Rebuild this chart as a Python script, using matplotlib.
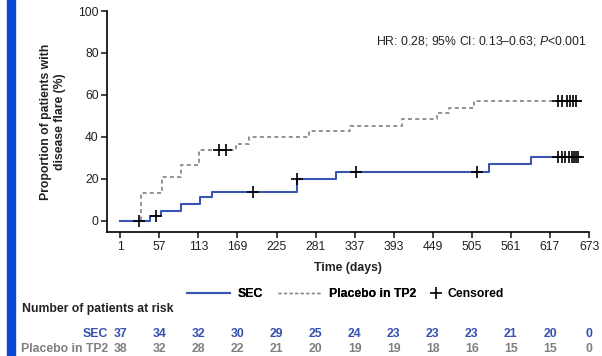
import numpy as np
import matplotlib
matplotlib.use("Agg")
import matplotlib.pyplot as plt
from matplotlib.lines import Line2D
from matplotlib.patches import Rectangle
from matplotlib import transforms

FS = 8.8
plt.rcParams.update({
    "font.family": ["Liberation Sans", "DejaVu Sans"],
    "font.size": FS,
    "mathtext.fontset": "custom",
    "mathtext.rm": "Liberation Sans",
    "mathtext.it": "Liberation Sans:italic",
    "axes.linewidth": 1.2,
})

BLUE = "#3a55b4"
GREY = "#8a8a8a"
TXT_BLUE = "#3550b0"
TXT_GREY = "#7f7f7f"

# ---- data ----
sec_days = [1, 43, 59, 88, 115, 132, 254, 311, 530, 590, 663]
sec_pct = [0, 2.4, 4.9, 8.1, 11.4, 13.9, 20.0, 23.2, 27.0, 30.3, 30.3]
sec_cens = [28, 52, 191, 254, 339, 512, 629, 634, 639, 644, 648, 651, 654, 657]

pbo_days = [1, 31, 61, 88, 114, 167, 186, 272, 331, 405, 455, 472, 508, 663]
pbo_pct = [0, 13.2, 21.1, 26.5, 33.8, 36.7, 39.8, 42.9, 45.4, 48.6, 51.3, 54.0, 57.1, 57.1]
pbo_cens = [143, 153, 629, 635, 641, 646, 650, 654]

x_ticks = [1, 57, 113, 169, 225, 281, 337, 393, 449, 505, 561, 617, 673]
sec_risk = [37, 34, 32, 30, 29, 25, 24, 23, 23, 23, 21, 20, 0]
pbo_risk = [38, 32, 28, 22, 21, 20, 19, 19, 18, 16, 15, 15, 0]


def level_at(days, pct, t):
    idx = np.searchsorted(days, t, side="right") - 1
    return np.asarray(pct)[idx]


W, H = 602, 356
fig = plt.figure(figsize=(W / 100, H / 100), dpi=100)
ax = fig.add_axes([107 / W, 1 - 232.3 / H, (589 - 107) / W, (232.3 - 11) / H])

# blue side bar
fig.patches.append(Rectangle((7 / W, 0), 8 / W, 1, transform=fig.transFigure,
                             color="#0b46d6", zorder=0))

ax.step(pbo_days, pbo_pct, where="post", color=GREY, lw=1.3, ls=(0, (2.2, 1.8)))
ax.step(sec_days, sec_pct, where="post", color=BLUE, lw=1.5)
ax.plot(pbo_cens, level_at(pbo_days, pbo_pct, pbo_cens), ls="none", marker="+",
        color="black", ms=9, mew=1.2)
ax.plot(sec_cens, level_at(sec_days, sec_pct, sec_cens), ls="none", marker="+",
        color="black", ms=9, mew=1.2)

ax.set_xlim(-18, 673)
ax.set_ylim(-5.4, 100)
ax.set_xticks(x_ticks)
ax.set_yticks(range(0, 101, 20))
ax.tick_params(direction="out", length=4, width=1.2, labelsize=FS, pad=2, colors="#222222")
for s in ["top", "right"]:
    ax.spines[s].set_visible(False)

ax.set_ylabel("Proportion of patients with\ndisease flare (%)", fontweight="bold",
              fontsize=FS, labelpad=9, color="#222222")
ax.set_xlabel("Time (days)", fontweight="bold", fontsize=FS, labelpad=7, color="#222222")

fig.text(587 / W, 1 - 41 / H, "HR: 0.28; 95% CI: 0.13\u20130.63; $\\mathit{P}$<0.001",
         ha="right", va="center", fontsize=FS, color="#222222")

# legend
leg1 = fig.legend(handles=[Line2D([], [], color=BLUE, lw=1.5),
                           Line2D([], [], color=GREY, lw=1.0, ls=(0, (2.2, 1.8)))],
                  labels=["SEC", "Placebo in TP2"], loc="center left",
                  bbox_to_anchor=(181 / W, 1 - 294 / H), ncol=2, frameon=False,
                  borderpad=0, handlelength=3.5, handletextpad=0.65, columnspacing=1.2,
                  prop={"weight": "bold", "size": FS})
fig.legend(handles=[Line2D([], [], ls="none", marker="+", color="black", ms=9, mew=1.2)],
           labels=["Censored"], loc="center left",
           bbox_to_anchor=(424 / W, 1 - 294 / H), frameon=False, borderpad=0,
           handlelength=1.0, handletextpad=0.4, prop={"weight": "bold", "size": FS})
fig.add_artist(leg1)

# risk table
fig.text(22 / W, 1 - 309 / H, "Number of patients at risk", fontweight="bold",
         fontsize=FS, va="center", color="#222222")
trans = transforms.blended_transform_factory(ax.transData, fig.transFigure)
fig.text(108 / W, 1 - 334 / H, "SEC", ha="right", va="center", fontweight="bold",
         color=TXT_BLUE)
fig.text(108 / W, 1 - 349 / H, "Placebo in TP2", ha="right", va="center",
         fontweight="bold", color=TXT_GREY)
for t, a, b in zip(x_ticks, sec_risk, pbo_risk):
    ax.text(t, 1 - 334 / H, str(a), transform=trans, ha="center", va="center",
            fontweight="bold", color=TXT_BLUE, fontsize=FS)
    ax.text(t, 1 - 349 / H, str(b), transform=trans, ha="center", va="center",
            fontweight="bold", color=TXT_GREY, fontsize=FS)

fig.savefig("out.png", dpi=100)
